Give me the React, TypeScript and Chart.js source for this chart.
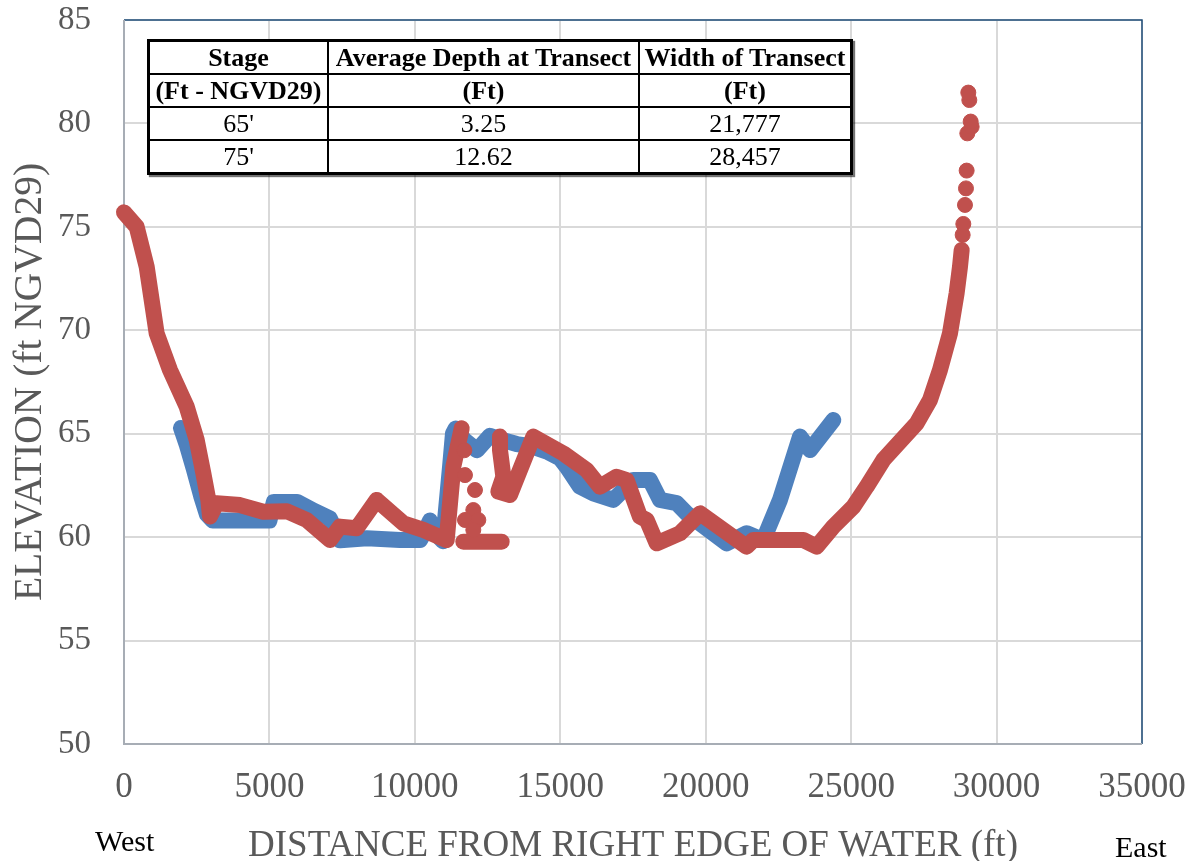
import React, { useEffect, useRef } from "react";
import { Chart, registerables } from "chart.js";

Chart.register(...registerables);

// ---- Data ----
const stage65X = [1960, 2150, 2400, 2650, 2850, 3050, 4000, 5000, 5150, 5950, 6500, 7080, 7430, 8350, 9490, 10180, 10320, 10520, 10700, 10970, 11210, 11310, 11400, 11700, 12136, 12580, 13000, 13500, 14000, 14600, 15000, 15219, 15677, 16135, 16823, 17510, 18084, 18428, 19001, 19345, 20720, 21408, 21981, 22553, 23241, 23585, 24387];
const stage65Y = [65.28, 64.5, 63.3, 62.0, 61.1, 60.8, 60.8, 60.8, 61.7, 61.7, 61.3, 60.9, 59.85, 59.95, 59.86, 59.86, 60.2, 60.8, 60.2, 59.8, 63.4, 65.0, 65.25, 64.7, 64.2, 64.9, 64.7, 64.5, 64.4, 64.1, 63.8, 63.4, 62.44, 62.12, 61.8, 62.76, 62.76, 61.8, 61.64, 61.15, 59.7, 60.19, 59.86, 61.8, 64.86, 64.21, 65.66];

const stage75WestX = [0, 436, 780, 1123, 1581, 2155, 2499, 2728, 2900, 2957, 3186, 3988, 4790, 5600, 6281, 7082, 7426, 8000, 8688, 9603, 10290, 11095, 11323, 11610];
const stage75WestY = [75.7, 75.0, 73.07, 69.85, 68.08, 66.31, 64.7, 63.09, 61.8, 61.0, 61.64, 61.55, 61.23, 61.25, 60.83, 59.86, 60.51, 60.43, 61.8, 60.67, 60.35, 59.86, 63.41, 65.26];

const stage75FloorX = [11666, 12985];
const stage75FloorY = [59.78, 59.78];

const stage75EastX = [12927, 12927, 12985, 13042, 12870, 13270, 14073, 15104, 15906, 16365, 16938, 17282, 17740, 17970, 18314, 19116, 19803, 21408, 21637, 23356, 23814, 24387, 25074, 25533, 26106, 27252, 27710, 28054, 28398, 28627, 28742, 28800];
const stage75EastY = [64.86, 64.21, 63.57, 62.92, 62.2, 62.04, 64.86, 64.05, 63.25, 62.44, 62.92, 62.76, 60.99, 60.83, 59.7, 60.19, 61.15, 59.54, 59.86, 59.86, 59.54, 60.51, 61.47, 62.44, 63.73, 65.5, 66.63, 68.08, 69.85, 71.79, 73.07, 73.88];

const stage75DotsX = [11700, 11723, 12067, 12010, 11723, 12182, 12010, 28834, 28857, 28914, 28948, 28971, 28994, 29143, 29110, 29063, 29028];
const stage75DotsY = [64.2, 63.0, 62.28, 61.31, 60.83, 60.83, 60.35, 74.61, 75.14, 76.06, 76.86, 77.72, 79.52, 79.84, 80.09, 81.13, 81.49];

const xTickLabels = ["0", "5000", "10000", "15000", "20000", "25000", "30000", "35000"];
const yTickLabels = ["50", "55", "60", "65", "70", "75", "80", "85"];

const tableHeader1 = ["Stage", "Average Depth at Transect", "Width of Transect"];
const tableHeader2 = ["(Ft - NGVD29)", "(Ft)", "(Ft)"];
const tableRows = [
  ["65'", "3.25", "21,777"],
  ["75'", "12.62", "28,457"],
];

const BLUE = "#4f81bd";
const RED = "#c0504d";
const SERIF = '"Liberation Serif", "Times New Roman", serif';

const pts = (xs: number[], ys: number[]) => xs.map((x, i) => ({ x, y: ys[i] }));

const lineDs = (label: string, xs: number[], ys: number[], color: string) => ({
  label,
  data: pts(xs, ys),
  showLine: true,
  borderColor: color,
  backgroundColor: color,
  borderWidth: 16,
  borderCapStyle: "round" as const,
  borderJoinStyle: "round" as const,
  pointRadius: 0,
  tension: 0,
  clip: 12,
});

const framePlugin = {
  id: "frame",
  beforeDatasetsDraw(chart: any) {
    const { ctx, chartArea: a } = chart;
    ctx.save();
    ctx.strokeStyle = "#1f4e79";
    ctx.lineWidth = 1.5;
    ctx.beginPath();
    ctx.moveTo(a.left, a.top);
    ctx.lineTo(a.right, a.top);
    ctx.lineTo(a.right, a.bottom);
    ctx.stroke();
    ctx.strokeStyle = "#a7adb5";
    ctx.lineWidth = 2;
    ctx.beginPath();
    ctx.moveTo(a.left, a.top);
    ctx.lineTo(a.left, a.bottom);
    ctx.lineTo(a.right, a.bottom);
    ctx.stroke();
    ctx.restore();
  },
};

export default function App() {
  const ref = useRef<HTMLCanvasElement>(null);

  useEffect(() => {
    if (!ref.current) return;
    const chart = new Chart(ref.current, {
      type: "scatter",
      data: {
        datasets: [
          {
            label: "75' dots",
            data: pts(stage75DotsX, stage75DotsY),
            showLine: false,
            pointRadius: 7.5,
            pointBorderWidth: 1,
            pointBackgroundColor: RED,
            pointBorderColor: RED,
            clip: 12,
          } as any,
          lineDs("75' west", stage75WestX, stage75WestY, RED),
          lineDs("75' floor", stage75FloorX, stage75FloorY, RED),
          lineDs("75' east", stage75EastX, stage75EastY, RED),
          lineDs("65'", stage65X, stage65Y, BLUE),
        ],
      },
      options: {
        responsive: false,
        maintainAspectRatio: false,
        devicePixelRatio: 1,
        animation: false,
        layout: { padding: { top: 20, right: 56, bottom: 0, left: 0 } },
        plugins: {
          legend: { display: false },
          tooltip: { enabled: false },
        },
        scales: {
          x: {
            type: "linear",
            min: 0,
            max: 35000,
            ticks: {
              stepSize: 5000,
              autoSkip: false,
              maxRotation: 0,
              minRotation: 0,
              color: "#595959",
              font: { family: SERIF, size: 35 },
              padding: 23,
              callback: (_v: any, i: number) => xTickLabels[i],
            },
            grid: { color: "#d9d9d9", lineWidth: 2, drawTicks: false },
            border: { display: false },
            title: {
              display: true,
              text: "DISTANCE FROM RIGHT EDGE OF WATER (ft)",
              color: "#595959",
              font: { family: SERIF, size: 37, lineHeight: 0.8 },
              padding: 0,
            },
            afterFit: (s: any) => {
              s.height = 117;
              s.paddingLeft = 0;
              s.paddingRight = 0;
              s.paddingTop = 0;
              s.paddingBottom = 0;
            },
          },
          y: {
            type: "linear",
            min: 50,
            max: 85,
            ticks: {
              stepSize: 5,
              autoSkip: false,
              color: "#595959",
              font: { family: SERIF, size: 33 },
              padding: 33,
              callback: (_v: any, i: number) => yTickLabels[i],
            },
            grid: { color: "#d9d9d9", lineWidth: 2, drawTicks: false },
            border: { display: false },
            title: {
              display: true,
              text: "ELEVATION (ft NGVD29)",
              color: "#595959",
              font: { family: SERIF, size: 39.5 },
              padding: { top: 7, bottom: 0 },
            },
            afterFit: (s: any) => {
              s.width = 124;
              s.paddingLeft = 0;
              s.paddingRight = 0;
              s.paddingTop = 0;
              s.paddingBottom = 0;
            },
          },
        },
      } as any,
      plugins: [framePlugin],
    });
    return () => chart.destroy();
  }, []);

  const B = "2px solid #000";
  const cell: React.CSSProperties = {
    border: B,
    padding: 0,
    height: 31,
    textAlign: "center",
    verticalAlign: "middle",
    fontSize: 26,
    lineHeight: "29px",
    whiteSpace: "nowrap",
    overflow: "hidden",
  };

  return (
    <div
      style={{
        position: "fixed",
        left: 0,
        top: 0,
        width: 1198,
        height: 861,
        background: "#fff",
        fontFamily: SERIF,
        overflow: "hidden",
      }}
    >
      <canvas ref={ref} width={1198} height={861} style={{ display: "block", width: 1198, height: 861 }} />
      <div
        style={{
          position: "absolute",
          left: 147,
          top: 39,
          width: 706,
          background: "#fff",
          border: "3px solid #000",
          boxShadow: "2px 2px 1px rgba(0,0,0,0.55)",
          boxSizing: "border-box",
        }}
      >
        <table
          style={{
            borderCollapse: "collapse",
            width: "100%",
            tableLayout: "fixed",
            fontFamily: SERIF,
            color: "#000",
          }}
        >
          <colgroup>
            <col style={{ width: 178 }} />
            <col style={{ width: 311 }} />
            <col style={{ width: 211 }} />
          </colgroup>
          <tbody>
            <tr>
              {tableHeader1.map((t, i) => (
                <td key={i} style={{ ...cell, fontWeight: "bold", borderTop: "none", borderLeft: i === 0 ? "none" : B, borderRight: i === 2 ? "none" : B }}>
                  {t}
                </td>
              ))}
            </tr>
            <tr>
              {tableHeader2.map((t, i) => (
                <td key={i} style={{ ...cell, fontWeight: "bold", borderLeft: i === 0 ? "none" : B, borderRight: i === 2 ? "none" : B }}>
                  {t}
                </td>
              ))}
            </tr>
            {tableRows.map((r, ri) => (
              <tr key={ri}>
                {r.map((t, i) => (
                  <td key={i} style={{ ...cell, borderBottom: ri === tableRows.length - 1 ? "none" : B, borderLeft: i === 0 ? "none" : B, borderRight: i === 2 ? "none" : B }}>
                    {t}
                  </td>
                ))}
              </tr>
            ))}
          </tbody>
        </table>
      </div>
      <div style={{ position: "absolute", left: 95, top: 826, fontSize: 30, lineHeight: "30px", color: "#000" }}>West</div>
      <div style={{ position: "absolute", left: 1115, top: 832, fontSize: 30, lineHeight: "30px", color: "#000" }}>East</div>
    </div>
  );
}
